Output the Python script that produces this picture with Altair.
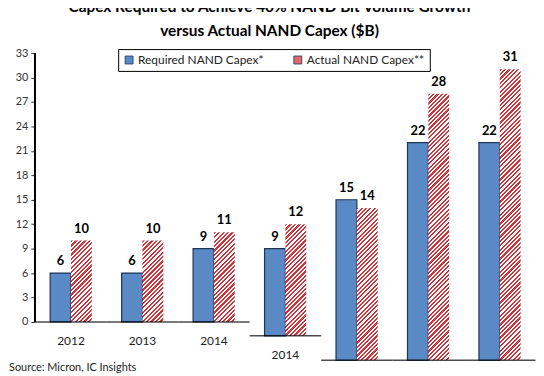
import altair as alt
import pandas as pd

# ---- data ----
group_id = [1, 2, 3, 4, 5, 6, 7]
x_labels = ["2012", "2013", "2014", "2014", "", "", ""]
required = [6, 6, 9, 9, 15, 22, 22]
actual = [10, 10, 11, 12, 14, 28, 31]
bar_base = [0, 0, 0, -1.7, -4.7, -4.7, -4.7]   # collage: right-hand panels sit lower
series_names = ["Required NAND Capex*", "Actual NAND Capex**"]
y_ticks = [0, 3, 6, 9, 12, 15, 18, 21, 24, 27, 30, 33]
title_lines = ["Capex Required to Achieve 40% NAND Bit Volume Growth",
               "versus Actual NAND Capex ($B)"]
source_text = "Source: Micron, IC Insights"

# ---- style ----
FONT = "Lato"
BLUE = "#5a8ac6"
BLUE_EDGE = "#1d3557"
RED = "#d2343c"
W, H = 505, 312
Y_DOMAIN = [-5, 33]
PX_PER_UNIT = H / (Y_DOMAIN[1] - Y_DOMAIN[0])
BAR_W = 21.0
PERIOD = 4.4

rows = []
for g, lab, r, a, b in zip(group_id, x_labels, required, actual, bar_base):
    rows.append(dict(g=g, label=lab, series=series_names[0], value=r, base=b))
    rows.append(dict(g=g, label=lab, series=series_names[1], value=a, base=b))
df = pd.DataFrame(rows)
groups_df = pd.DataFrame(dict(g=group_id, label=x_labels, base=bar_base))

x_enc = alt.X("g:O", scale=alt.Scale(paddingInner=0.4167, paddingOuter=0.215), axis=None)
xoff = alt.XOffset("series:N", scale=alt.Scale(domain=series_names, paddingInner=0, paddingOuter=0))
y_scale = alt.Scale(domain=Y_DOMAIN, nice=False, zero=False)
y_axis = alt.Axis(values=y_ticks, title=None, grid=False, domain=False,
                  tickSize=4, tickColor="#333", labelFont=FONT, labelFontSize=11,
                  labelColor="#333", labelPadding=3, labelOverlap=False, labelFlush=False)
y_enc = alt.Y("value:Q", scale=y_scale, axis=y_axis)
y_base = alt.Y("base:Q", scale=y_scale, axis=y_axis)

base = alt.Chart(df)

blue = base.transform_filter(alt.datum.series == series_names[0]).mark_bar(
    stroke=BLUE_EDGE, strokeWidth=1.2
).encode(
    x=x_enc, xOffset=xoff, y=y_enc, y2="base:Q",
    color=alt.Color("series:N", scale=alt.Scale(domain=series_names, range=[BLUE, "#dc6a6e"]),
                    legend=alt.Legend(title=None, orient="none", direction="horizontal",
                                      legendX=84, legendY=-4, strokeColor="black",
                                      fillColor="white", padding=5, symbolType="square",
                                      symbolSize=64, symbolStrokeColor=BLUE_EDGE,
                                      symbolStrokeWidth=0.8, labelFont=FONT,
                                      labelFontSize=12, labelColor="#222",
                                      columnPadding=28, labelOffset=3)),
)


def hatch(h, w=BAR_W):
    k = (w + h) / (w * w + h * h)
    n = max(1, int(round((w + h) / PERIOD)))
    stops = []
    for j in range(n):
        a0, a1, a2 = j / n, (j + 0.5) / n, (j + 1) / n
        stops += [alt.GradientStop(offset=a0, color=RED), alt.GradientStop(offset=a1, color=RED),
                  alt.GradientStop(offset=a1, color="white"), alt.GradientStop(offset=a2, color="white")]
    return alt.LinearGradient(gradient="linear", x1=0, y1=0, x2=k * w, y2=k * h, stops=stops)


red_layers = []
for g, a, b in zip(group_id, actual, bar_base):
    h = (a - b) * PX_PER_UNIT
    red_layers.append(
        base.transform_filter((alt.datum.series == series_names[1]) & (alt.datum.g == g))
        .mark_bar(fill=hatch(h), strokeWidth=0)
        .encode(x=x_enc, xOffset=xoff, y=y_enc, y2="base:Q")
    )

values = base.mark_text(font=FONT, fontSize=13, fontWeight="bold", color="black",
                        baseline="bottom", dy=-5).encode(
    x=x_enc, xOffset=xoff, y=y_enc, text="value:Q")

base_lines = alt.Chart(groups_df).mark_tick(orient="horizontal", size=72, thickness=1.5,
                                            color="black").encode(x=x_enc, y=y_base)

y_rule = alt.Chart(groups_df).mark_rule(color="black", strokeWidth=1.2).encode(
    x=alt.value(0),
    y=alt.Y(datum=y_ticks[0], scale=y_scale, axis=y_axis),
    y2=alt.Y2(datum=y_ticks[-1]))

xlabels = alt.Chart(groups_df).mark_text(font=FONT, fontSize=12, color="#222",
                                         baseline="middle", dy=19).encode(
    x=x_enc, y=y_base, text="label:N")

source = alt.Chart(pd.DataFrame(dict(t=[source_text]))).mark_text(
    font=FONT, fontSize=11, color="#222", align="left", baseline="alphabetic"
).encode(x=alt.value(-26), y=alt.value(320), text="t:N")

chart = alt.layer(blue, *red_layers, base_lines, y_rule, values, xlabels, source).properties(
    width=W, height=H,
    autosize="none",
    padding={"left": 27, "top": 44, "right": 0, "bottom": 12},
    title=alt.TitleParams(text=title_lines, font=FONT, fontSize=15.5, fontWeight="bold",
                          color="black", anchor="middle", dx=-16, lineHeight=24, offset=8),
).configure_view(stroke=None).configure_axisY(labelOverlap=False, tickCount=12)

chart.save("out.html", embed_options={"renderer": "svg", "actions": False})
